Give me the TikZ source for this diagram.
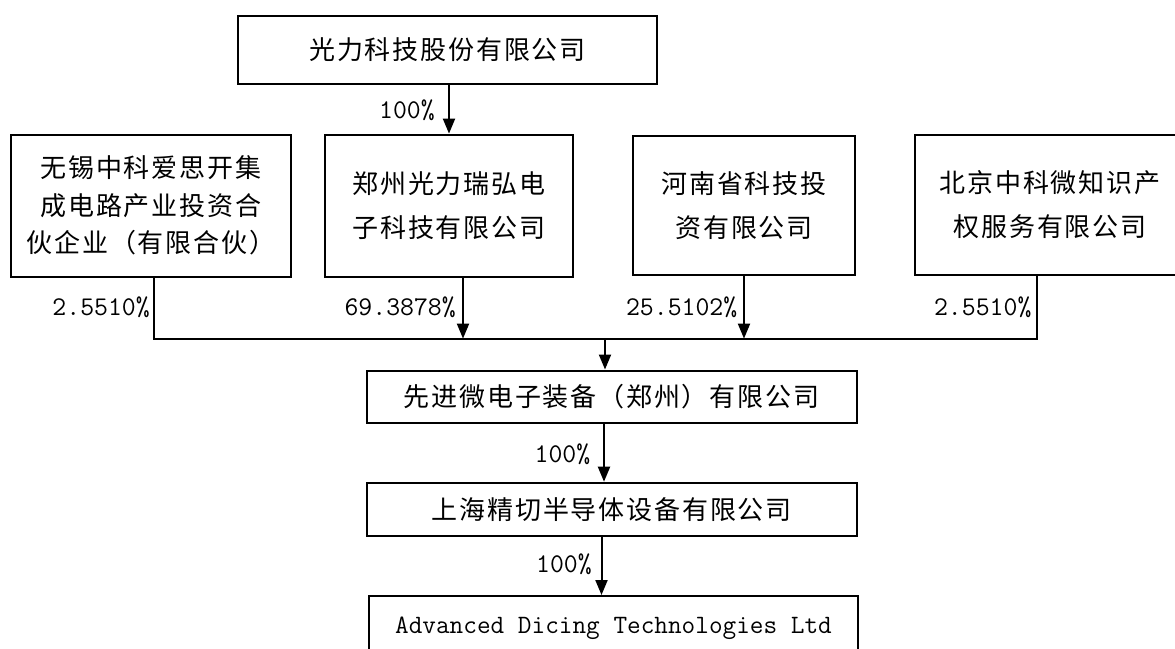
\documentclass[tikz,border=0pt]{standalone}
\usepackage{fontspec}
\usetikzlibrary{arrows.meta}
\newfontfamily\cjk[LetterSpace=7]{Noto Sans CJK SC}
\tikzset{
  box/.style={draw=black, line width=2pt, fill=white, inner sep=0pt, align=center,
              font=\cjk\fontsize{26}{44}\selectfont},
  conn/.style={line width=2pt},
  arr/.style={line width=2pt, -{Triangle[length=15pt,width=12pt]}},
  pct/.style={anchor=east, inner sep=0pt, font=\ttfamily\fontsize{27}{30}\selectfont}
}
\begin{document}
\begin{tikzpicture}[x=1pt,y=-1pt]
\useasboundingbox (0,0) rectangle (1175,648);
% boxes
\node[box, minimum width=419pt, minimum height=68.5pt] (top) at (447.5,49.75) {光力科技股份有限公司};
\node[box, minimum width=280pt, minimum height=142pt, font=\cjk\fontsize{26}{37.6}\selectfont] (w) at (150.85,205.6) {无锡中科爱思开集\\成电路产业投资合\\伙企业（有限合伙）};
\node[box, minimum width=248pt, minimum height=142pt] (z) at (449,205.6) {郑州光力瑞弘电\\子科技有限公司};
\node[box, minimum width=222pt, minimum height=139pt] (h) at (744,205.5) {河南省科技投\\资有限公司};
\node[box, minimum width=270pt, minimum height=140pt] (b) at (1050,205) {北京中科微知识产\\权服务有限公司};
\node[box, minimum width=490pt, minimum height=52.5pt] (x) at (611.5,396.75) {先进微电子装备（郑州）有限公司};
\node[box, minimum width=490.4pt, minimum height=53pt] (s) at (611.8,509.2) {上海精切半导体设备有限公司};
\node[box, minimum width=489pt, minimum height=65pt, font=\ttfamily\fontsize{26.5}{30}\selectfont] (a) at (613.5,628.5) {Advanced Dicing Technologies Ltd};
% bus coordinates
\coordinate (bw) at (154,338.6);
\coordinate (bz) at (463,338.6);
\coordinate (bh) at (744,338.6);
\coordinate (bb) at (1037,338.6);
\coordinate (bx) at (605,338.6);
\coordinate (xs) at (604,423);
\coordinate (sa) at (601.5,535.7);
% connectors
\draw[arr] (z.north |- top.south) -- (z.north);
\draw[conn] (bw |- w.south) -- (bw) -- (bb) -- (bb |- b.south);
\draw[arr] (bz |- z.south) -- (bz);
\draw[arr] (h.south) -- (bh);
\draw[arr] (bx) -- (bx |- x.north);
\draw[arr] (xs) -- (xs |- s.north);
\draw[arr] (sa) -- (sa |- a.north);
% labels
\node[pct] (l0) at (435,110) {100\%};
\node[pct] (l1) at (150,307) {2.5510\%};
\node[pct] (l2) at (456,307) {69.3878\%};
\node[pct] (l3) at (737.5,307) {25.5102\%};
\node[pct] (l4) at (1031.6,307) {2.5510\%};
\node[pct] (l5) at (590.5,454) {100\%};
\node[pct] (l6) at (592,564) {100\%};
\end{tikzpicture}
\end{document}
